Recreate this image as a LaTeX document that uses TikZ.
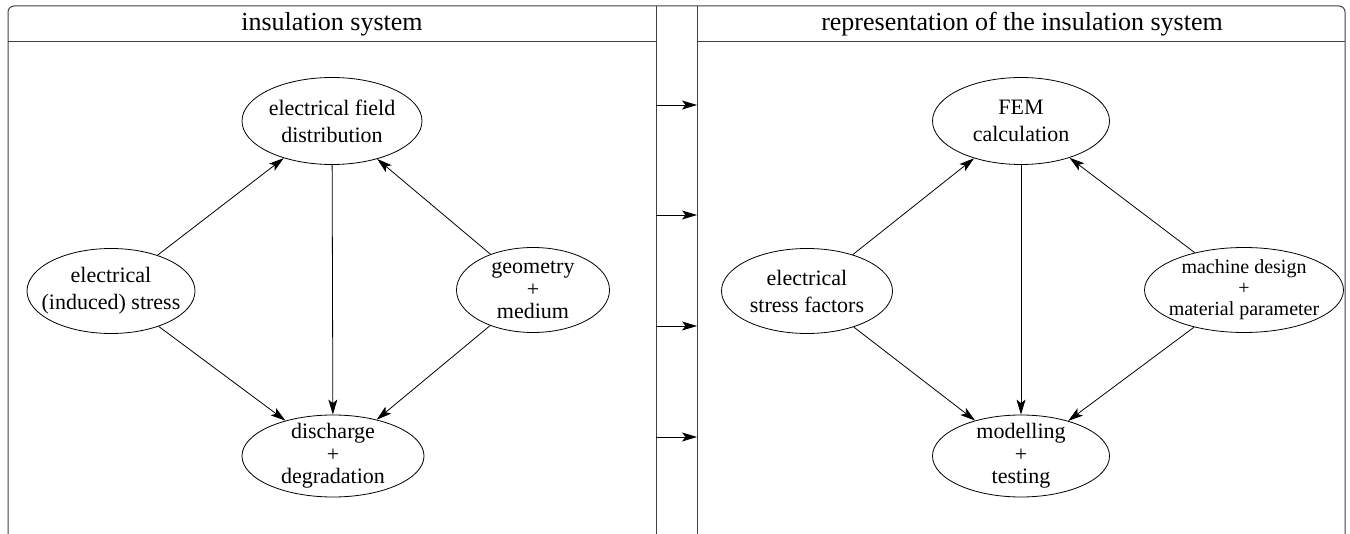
\documentclass[tikz,border=0pt]{standalone}
\usepackage{fontspec}
\setmainfont{Liberation Serif}
\usetikzlibrary{shapes.geometric,arrows.meta}
\tikzset{
  frame/.style={line width=1pt,draw=black!75},
  bubble/.style={ellipse,draw,line width=0.8pt,inner sep=-40pt,align=center,
    font=\fontsize{22}{27}\selectfont},
  tri/.style={bubble,font=\fontsize{22}{22.5}\selectfont},
  head/.style={font=\fontsize{26}{30}\selectfont,inner sep=0pt},
  link/.style={line width=0.8pt,-{Stealth[length=15pt,width=9pt,inset=3.5pt]}},
}
\begin{document}
\begin{tikzpicture}[x=1pt,y=-1pt]
\useasboundingbox (0,0) rectangle (1350,534);
% outer frame, open at the bottom
\draw[frame,rounded corners=6pt] (8,534) -- (8,6) -- (1345,6) -- (1345,534);
\draw[frame] (656,6) -- (656,534);
\draw[frame] (697,6) -- (697,534);
\draw[frame] (8,42) -- (656,42);
\draw[frame] (697,42) -- (1345,42);
% panel titles
\node[head] (t1) at (332,24) {insulation system};
\node[head] (t2) at (1022,24) {representation of the insulation system};
% left panel
\node[bubble,minimum width=180pt,minimum height=87pt] (field) at (332,121) {electrical field\\distribution};
\node[bubble,minimum width=168pt,minimum height=85pt] (stress) at (111,291) {electrical\\(induced) stress};
\node[tri,minimum width=153pt,minimum height=85pt] (geo) at (533,290) {geometry\\+\\medium};
\node[tri,minimum width=182pt,minimum height=82pt] (dis) at (333,456) {discharge\\+\\degradation};
\draw[link] (stress) -- (field);
\draw[link] (geo) -- (field);
\draw[link] (field) -- (dis);
\draw[link] (stress) -- (dis);
\draw[link] (geo) -- (dis);
% right panel
\node[bubble,minimum width=177pt,minimum height=87pt] (fem) at (1021,121) {FEM\\calculation};
\node[bubble,minimum width=171pt,minimum height=85pt] (esf) at (807,291) {electrical\\stress factors};
\node[tri,minimum width=199pt,minimum height=85pt,font=\fontsize{20}{21}\selectfont] (mach) at (1244,290) {machine design\\+\\material parameter};
\node[tri,minimum width=177pt,minimum height=82pt] (mod) at (1021,456) {modelling\\+\\testing};
\draw[link] (esf) -- (fem);
\draw[link] (mach) -- (fem);
\draw[link] (fem) -- (mod);
\draw[link] (esf) -- (mod);
\draw[link] (mach) -- (mod);
% arrows between the panels
\foreach \i/\yy in {1/105,2/215,3/326,4/437}{
  \coordinate (a\i) at (656,\yy);
  \coordinate (b\i) at (697,\yy);
  \draw[link] (a\i) -- (b\i);
}
\end{tikzpicture}
\end{document}
